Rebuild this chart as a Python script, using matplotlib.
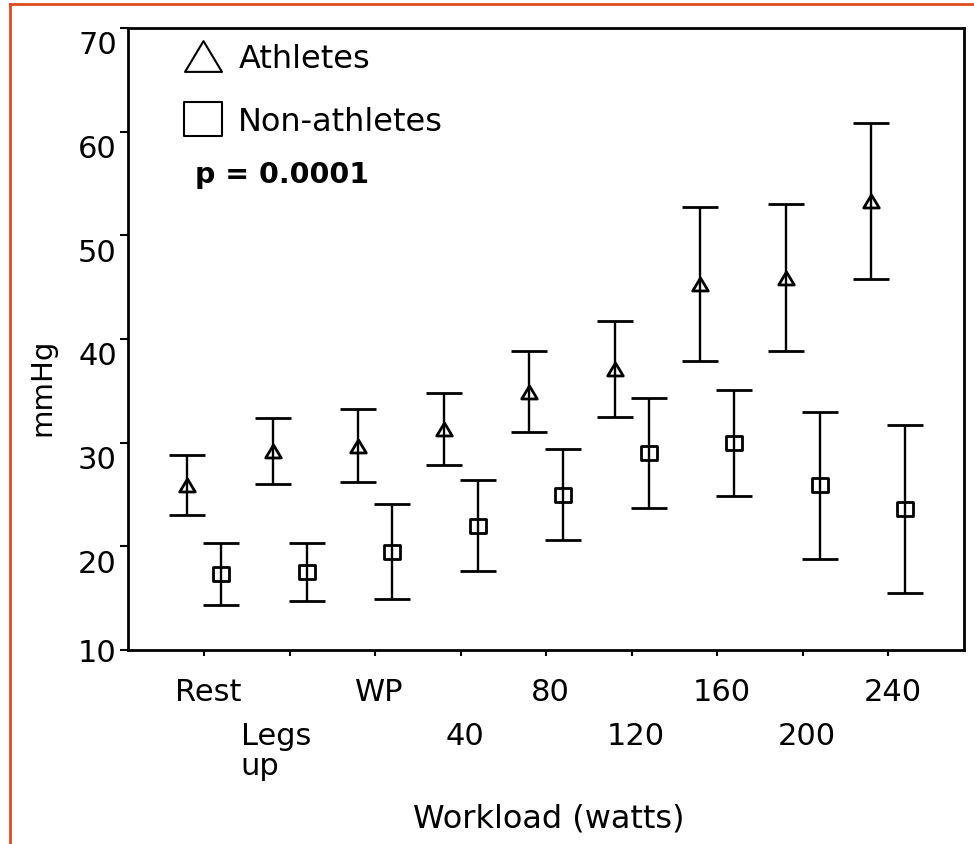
import matplotlib
matplotlib.use("Agg")
import matplotlib.pyplot as plt
from matplotlib.path import Path
from matplotlib.lines import Line2D
import numpy as np

# Workload stages and mean pressure (mmHg) with error half-widths
categories = ["Rest", "Legs\nup", "WP", "40", "80", "120", "160", "200", "240"]
athletes_mean = [25.9, 29.2, 29.7, 31.3, 34.9, 37.1, 45.3, 45.9, 53.3]
athletes_err = [2.9, 3.2, 3.5, 3.5, 3.9, 4.6, 7.4, 7.1, 7.5]
nonathletes_mean = [17.3, 17.5, 19.5, 22.0, 25.0, 29.0, 30.0, 25.9, 23.6]
nonathletes_err = [3.0, 2.8, 4.6, 4.4, 4.4, 5.3, 5.1, 7.1, 8.1]
y_ticks = [10, 20, 30, 40, 50, 60, 70]
series_labels = ["Athletes", "Non-athletes"]
p_text = "p = 0.0001"
x_title = "Workload (watts)"
y_title = "mmHg"

W, H, DPI = 974, 845, 100
fig = plt.figure(figsize=(W / DPI, H / DPI), dpi=DPI)
fig.patch.set_facecolor("white")

# axes box in pixels: left 128, right 964, top 29, bottom 651
ax = fig.add_axes([128 / W, (H - 651) / H, (964 - 128) / W, (651 - 29) / H])
ax.set_xlim(-0.892, 8.885)
ax.set_ylim(10, 70)

# slightly wide open markers
tri = Path([(0, 1), (-1.2, -1), (1.2, -1), (0, 1)], closed=True)
sq = Path([(-1.1, -1), (1.1, -1), (1.1, 1), (-1.1, 1), (-1.1, -1)], closed=True)

x = np.arange(len(categories))
shift = 0.2
common = dict(linestyle="none", ecolor="black", elinewidth=1.7, capsize=13,
              capthick=2.0, mfc="none", mec="black", mew=2.0)
ax.errorbar(x - shift, athletes_mean, yerr=athletes_err, marker=tri,
            ms=11.2, **common)
ax.errorbar(x + shift, nonathletes_mean, yerr=nonathletes_err, marker=sq,
            ms=11.7, **common)

# axes frame and ticks
for side, sp in ax.spines.items():
    sp.set_linewidth(2.0)
    sp.set_color("black")
ax.set_xticks(x)
ax.set_yticks(y_ticks)
ax.tick_params(axis="x", direction="out", length=4, width=1.5,
               labelbottom=False)
ax.tick_params(axis="y", direction="out", length=6, width=1.5,
               labelleft=False)

# y tick labels
for v in y_ticks:
    ax.annotate(str(v), xy=(0, v), xycoords=("axes fraction", "data"),
                xytext=(-8, 0 if v == y_ticks[0] else -10),
                textcoords="offset points", ha="right",
                va="center_baseline", fontsize=22)

# category labels in two staggered rows (baseline of the last line is anchored)
line_pitch = 21.8
for i, lab in enumerate(categories):
    n_extra = lab.count("\n")
    dy = (-36 if i % 2 == 0 else -67.7) - line_pitch * n_extra
    dx = -10 if n_extra else 2.9
    ax.annotate(lab, xy=(i, 0), xycoords=("data", "axes fraction"),
                xytext=(dx, dy), textcoords="offset points", ha="center",
                va="baseline", multialignment="left", linespacing=1.06,
                fontsize=22)

ax.set_xlabel(x_title, fontsize=23)
ax.xaxis.set_label_coords(0.5036, -0.283)
ax.xaxis.label.set_va("baseline")
ax.set_ylabel(y_title, fontsize=21)
ax.yaxis.set_label_coords(-0.1023, 0.4244)
ax.yaxis.label.set_va("center")

# legend
handles = [
    Line2D([], [], linestyle="none", marker=tri, ms=26.6, mfc="none",
           mec="black", mew=1.5, label=series_labels[0]),
    Line2D([], [], linestyle="none", marker=sq, ms=27.4, mfc="none",
           mec="black", mew=1.5, label=series_labels[1]),
]
ax.legend(handles=handles, loc="upper left", bbox_to_anchor=(0.067, 0.976),
          frameon=False, fontsize=23, borderpad=0, borderaxespad=0,
          handlelength=1.2, handletextpad=0.5, labelspacing=1.0)

ax.text(0.080, 0.7524, p_text, transform=ax.transAxes, ha="left",
        va="baseline", fontsize=20.5, fontweight="bold")

# orange page frame
frame_c = "#E04A1C"
fig.add_artist(Line2D([10 / W, 10 / W], [0, 1 - 5 / H],
                      transform=fig.transFigure, color=frame_c, lw=2))
fig.add_artist(Line2D([10 / W, 1], [1 - 5 / H, 1 - 5 / H],
                      transform=fig.transFigure, color=frame_c, lw=2))

fig.savefig("out.png", dpi=DPI)
